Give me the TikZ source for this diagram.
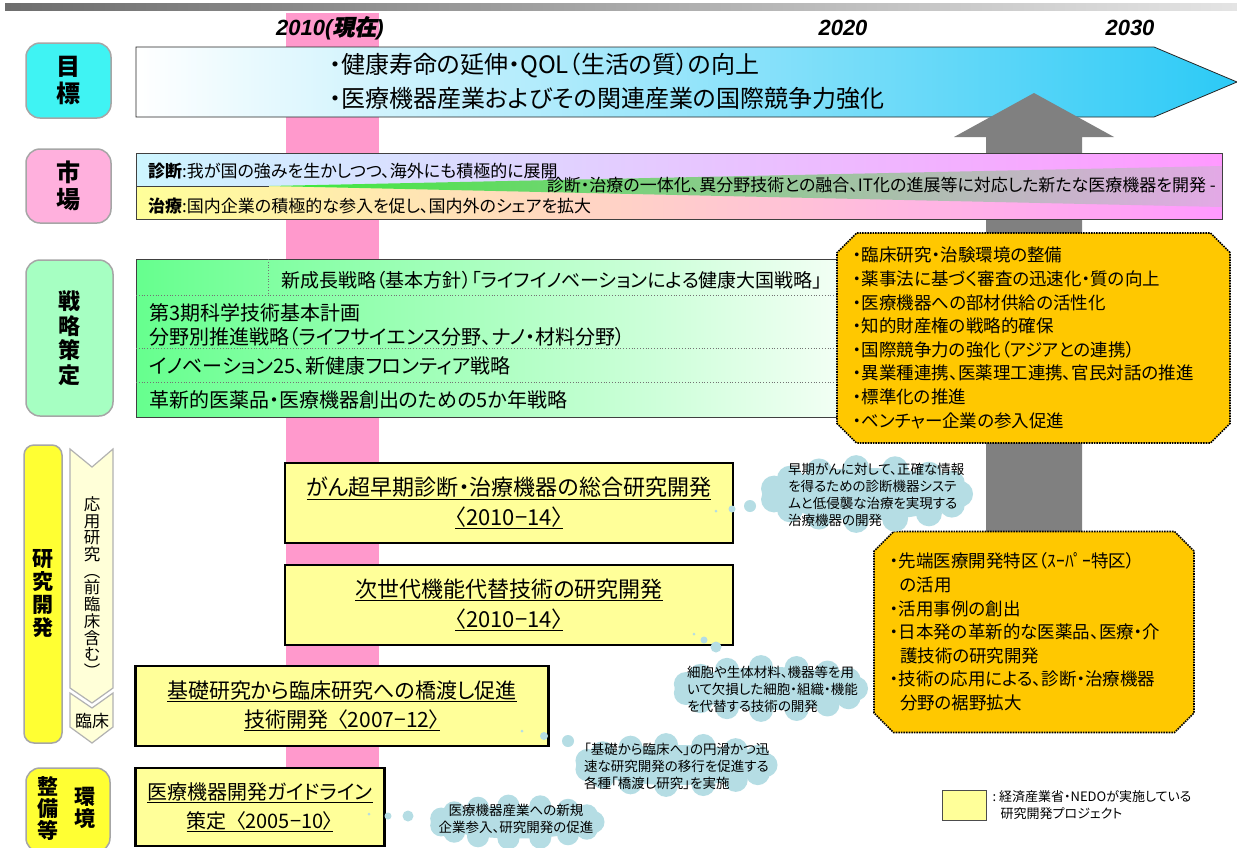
\documentclass[tikz,border=0pt]{standalone}
\usepackage{fontspec}
\setmainfont[RawFeature=+palt]{Noto Sans CJK JP}
\newfontfamily\yearfont{Liberation Sans}
\newfontfamily\yearcjk[FakeSlant=0.2,FakeBold=1.5]{Noto Sans CJK JP}
\usetikzlibrary{shapes.misc,positioning}
\definecolor{MapBarDark}{HTML}{6E6E6E}
\definecolor{MapBarLight}{HTML}{E4E4E4}
\definecolor{MapNow}{HTML}{FF99CC}
\definecolor{MapGoalPale}{HTML}{C4ECFB}
\definecolor{MapGoal}{HTML}{2CCAF6}
\definecolor{MapArrow}{HTML}{808080}
\definecolor{MapIce}{HTML}{CDF6FF}
\definecolor{MapLemon}{HTML}{FFFF99}
\definecolor{MapMagenta}{HTML}{FF99FF}
\definecolor{MapWedge}{HTML}{3AEA3A}
\definecolor{MapWedgeMid}{HTML}{8CDA8C}
\definecolor{MapWedgeEnd}{HTML}{E3A9E6}
\definecolor{MapGreen}{HTML}{66FF8E}
\definecolor{MapGreenPale}{HTML}{F2FFF4}
\definecolor{MapGold}{HTML}{FFC800}
\definecolor{MapProject}{HTML}{FFFF99}
\definecolor{MapCloud}{HTML}{B5DDE4}
\definecolor{MapAqua}{HTML}{3FF3F3}
\definecolor{MapRose}{HTML}{FFB0DD}
\definecolor{MapMint}{HTML}{A6FFC2}
\definecolor{MapYellow}{HTML}{FFFF33}
\definecolor{MapCream}{HTML}{FFFFD8}
\tikzset{
  catbox/.style={
    draw=black!35,
    line width=1.5pt,
    rounded corners=14pt,
    inner sep=0pt,
    align=center,
    font=\fontsize{24}{27}\selectfont\bfseries
  },
  yearlabel/.style={
    inner sep=0pt,
    font=\fontsize{22}{24}\selectfont\yearfont\bfseries\itshape
  },
  goalline/.style={
    align=left,
    inner sep=0pt,
    font=\fontsize{24}{34}\selectfont
  },
  marketline/.style={
    anchor=west,
    inner sep=0pt,
    font=\fontsize{17}{20}\selectfont
  },
  stratline/.style={
    anchor=west,
    inner sep=0pt,
    align=left,
    font=\fontsize{20}{24}\selectfont
  },
  goldbox/.style={
    chamfered rectangle,
    chamfered rectangle xsep=16pt,
    draw=black,
    line width=1.6pt,
    densely dotted,
    fill=MapGold,
    inner sep=0pt,
    align=left,
    font=\fontsize{17.5}{23.6}\selectfont
  },
  projbox/.style={
    draw=black,
    line width=2.6pt,
    fill=MapProject,
    inner sep=0pt,
    align=center,
    font=\fontsize{22}{30}\selectfont
  },
  notepuff/.style={
    fill=MapCloud
  },
  notetext/.style={
    inner sep=0pt,
    align=left,
    font=\fontsize{13.5}{17}\selectfont
  },
  chevronbox/.style={
    draw=black!30,
    line width=1.2pt,
    fill=MapCream
  },
  stacktext/.style={
    inner sep=0pt,
    align=center,
    font=\fontsize{16.5}{16.7}\selectfont
  }
}
\begin{document}
\begin{tikzpicture}[x=1pt,y=-1pt]
  \useasboundingbox (0,0) rectangle (1237,847);
  \fill[white] (0,0) rectangle (1237,847);
  \shade[left color=MapBarDark,right color=MapBarLight] (5,3) rectangle (1237,10);
  \fill[MapNow] (286,13) rectangle (379,847);
  \node[yearlabel] (y2010) at (330,28) {2010({\yearcjk 現在})};
  \node[yearlabel] (y2020) at (843,28) {2020};
  \node[yearlabel] (y2030) at (1130,28) {2030};

  \shadedraw[left color=white,middle color=MapGoalPale,right color=MapGoal,draw=black!85,line width=0.8pt]
    (136,47) -- (1154,47) -- (1237,82) -- (1154,117) -- (136,117) -- cycle;
  \node[goalline,anchor=west] (goal) at (329,81) {・健康寿命の延伸・QOL（生活の質）の向上\\・医療機器産業およびその関連産業の国際競争力強化};
  \fill[MapArrow] (986,600) -- (986,137) -- (954,137) -- (1034,93) -- (1114,137) -- (1082,137) -- (1082,600) -- cycle;

  \shade[left color=MapIce,right color=MapMagenta] (136,153) rectangle (1222,186);
  \shade[left color=MapLemon,right color=MapMagenta] (136,186) rectangle (1222,219);
  \shade[left color=MapWedge,middle color=MapWedgeMid,right color=MapWedgeEnd] (269,186) -- (1222,166) -- (1222,207) -- cycle;
  \draw[black!75,line width=0.8pt] (136,186) -- (269,186);
  \node[draw=black!75,line width=0.8pt,minimum width=1086pt,minimum height=66pt,inner sep=0pt] (market) at (679,186) {};
  \node[marketline] (diagnosis) at (148,171) {\textbf{診断}:我が国の強みを生かしつつ、海外にも積極的に展開};
  \node[marketline] (therapy) at (148,206) {\textbf{治療}:国内企業の積極的な参入を促し、国内外のシェアを拡大};
  \node[marketline,anchor=east] (fusion) at (1216,185) {診断・治療の一体化、異分野技術との融合、IT化の進展等に対応した新たな医療機器を開発 -};

  \shadedraw[left color=MapGreen,right color=MapGreenPale,draw=black!75,line width=0.8pt] (136,259) rectangle (838,417);
  \draw[black!55,dotted,line width=0.8pt] (268,259) -- (268,295) (136,295) -- (838,295) (136,348) -- (838,348) (136,382) -- (838,382);
  \node[stratline,font=\fontsize{19}{24}\selectfont] (growth) at (281,280) {新成長戦略（基本方針）「ライフイノベーションによる健康大国戦略」};
  \node[stratline] (basicplan) at (149,325) {第3期科学技術基本計画\\分野別推進戦略（ライフサイエンス分野、ナノ・材料分野）};
  \node[stratline] (innovation) at (149,366) {イノベーション25、新健康フロンティア戦略};
  \node[stratline] (fiveyear) at (149,400) {革新的医薬品・医療機器創出のための5か年戦略};

  \node[goldbox,minimum width=393pt,minimum height=210pt,text width=361pt] (measures) at (1033.5,338) {・臨床研究・治験環境の整備\\・薬事法に基づく審査の迅速化・質の向上\\・医療機器への部材供給の活性化\\・知的財産権の戦略的確保\\・国際競争力の強化（アジアとの連携）\\・異業種連携、医薬理工連携、官民対話の推進\\・標準化の推進\\・ベンチャー企業の参入促進};
  \node[goldbox,minimum width=318pt,minimum height=201pt,text width=288pt] (zones) at (1034,632) {・先端医療開発特区（ｽｰﾊﾟｰ特区）\\\hspace*{10pt}の活用\\・活用事例の創出\\・日本発の革新的な医薬品、医療・介\\\hspace*{10pt}護技術の研究開発\\・技術の応用による、診断・治療機器\\\hspace*{10pt}分野の裾野拡大};

  \node[projbox,minimum width=448pt,minimum height=80pt] (cancer) at (509,503) {\underline{がん超早期診断・治療機器の総合研究開発}\\\underline{〈2010−14〉}};
  \node[projbox,minimum width=448pt,minimum height=80pt] (substitute) at (509,605) {\underline{次世代機能代替技術の研究開発}\\\underline{〈2010−14〉}};
  \node[projbox,minimum width=413pt,minimum height=80pt,font=\fontsize{21}{29}\selectfont] (bridge) at (342,706) {\underline{基礎研究から臨床研究への橋渡し促進}\\\underline{技術開発\ \ 〈2007−12〉}};
  \node[projbox,minimum width=249pt,minimum height=78pt,font=\fontsize{20}{29}\selectfont] (guideline) at (260,807) {\underline{医療機器開発ガイドライン}\\\underline{策定\ \ 〈2005−10〉}};

  \foreach \cx/\cy/\ca/\cb/\cr in {866/494/94/26/13, 770/688.5/86/21.5/12, 675.5/765/90/20/12, 516.5/822/77/16.5/11} {
    \fill[notepuff] (\cx,\cy) ellipse ({\ca} and {\cb});
    \foreach \t in {0,24,...,336}
      \fill[notepuff,shift={(\cx,\cy)}] (\t:{\ca} and {\cb}) circle (\cr pt);
  }
  \node[notetext,anchor=west] (cancernote) at (788,495) {早期がんに対して、正確な情報\\を得るための診断機器システ\\ムと低侵襲な治療を実現する\\治療機器の開発};
  \fill[notepuff] (716,511) circle (1.5pt) (732,509) circle (3.5pt) (750,506) circle (6pt);
  \node[notetext,anchor=west] (substitutenote) at (687,689) {細胞や生体材料、機器等を用\\いて欠損した細胞・組織・機能\\を代替する技術の開発};
  \fill[notepuff] (694,634) circle (1.5pt) (704,640) circle (3.5pt) (716,647) circle (5.5pt);
  \node[notetext,anchor=west] (bridgenote) at (584,766) {「基礎から臨床へ」の円滑かつ迅\\速な研究開発の移行を促進する\\各種「橋渡し研究」を実施};
  \fill[notepuff] (522,731) circle (1.5pt) (544,736) circle (4pt) (568,741) circle (6pt);
  \node[notetext,align=center] (guidelinenote) at (516,819) {医療機器産業への新規\\企業参入、研究開発の促進};
  \fill[notepuff] (369,814) circle (1.5pt) (388,816) circle (3.5pt) (408,816) circle (5.5pt);

  \node[catbox,fill=MapAqua,minimum width=85pt,minimum height=75pt] (goalcat) at (68.5,80.5) {目\\標};
  \node[catbox,fill=MapRose,minimum width=85pt,minimum height=74pt] (marketcat) at (68.5,186) {市\\場};
  \node[catbox,fill=MapMint,minimum width=87pt,minimum height=156pt,font=\fontsize{22}{24.5}\selectfont\bfseries] (strategycat) at (69.5,338) {戦\\略\\策\\定};
  \node[catbox,fill=MapYellow,rounded corners=10pt,minimum width=38pt,minimum height=298pt,font=\fontsize{21}{23}\selectfont\bfseries] (researchcat) at (43,594) {研\\究\\開\\発};
  \draw[chevronbox] (70,449) -- (92,467) -- (113,449) -- (113,688) -- (92,703) -- (70,688) -- cycle;
  \draw[chevronbox] (70,693) -- (92,708) -- (113,693) -- (113,727) -- (92,743) -- (70,727) -- cycle;
  \node[stacktext] (preclinical) at (92,587) {応\\用\\研\\究\\︵\\前\\臨\\床\\含\\む\\︶};
  \node[stacktext,font=\fontsize{17}{20}\selectfont] (clinical) at (92,721) {臨床};
  \node[catbox,fill=MapYellow,minimum width=84pt,minimum height=84pt] (envcat) at (68,810) {};
  \node[stacktext,font=\fontsize{21}{22}\selectfont\bfseries] (envright) at (85,808) {環\\境};
  \node[stacktext,font=\fontsize{21}{22}\selectfont\bfseries] (envleft) at (48,809) {整\\備\\等};

  \node[draw=black!70,line width=0.8pt,fill=MapProject,minimum width=44pt,minimum height=30pt,inner sep=0pt] (legendkey) at (964,805) {};
  \node[right=6pt of legendkey,align=left,inner sep=0pt,font=\fontsize{13}{17}\selectfont] (legendtext) {:\ 経済産業省・NEDOが実施している\\\hspace*{8pt}研究開発プロジェクト};
\end{tikzpicture}
\end{document}
